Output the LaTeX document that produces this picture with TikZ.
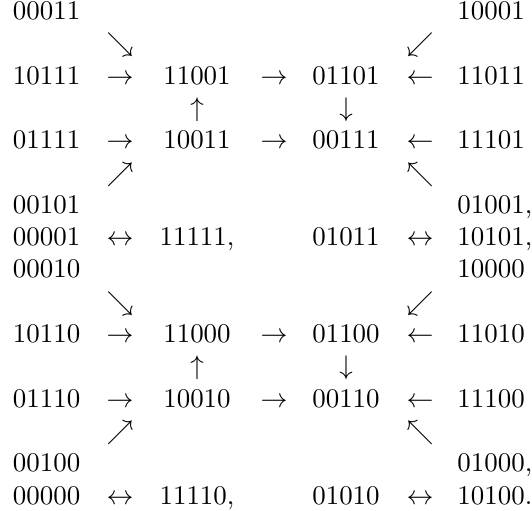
\documentclass[tikz,border=0pt]{standalone}
\begin{document}
\begin{tikzpicture}[x=0.3714pt,y=-0.3714pt,
  lft/.style={inner sep=0pt,outer sep=0pt,anchor=base west},
  ctr/.style={inner sep=0pt,outer sep=0pt,anchor=base},
  arr/.style={inner sep=0pt,outer sep=0pt,anchor=base}]
\useasboundingbox (0,0) rectangle (532,510);
% column x positions: c1 13 (left), a1 120, c2 197, a2 274, c3 346, a3 420, c4 457.5 (left)
% row 0
\node[lft] (n00011) at (13,19.3) {00011};
\node[lft] (n10001) at (457.5,19.3) {10001};
% row 1
\node[arr] (d1) at (120,51.6) {$\searrow$};
\node[arr] (d2) at (420,51.6) {$\swarrow$};
% row 2
\node[lft] (n10111) at (13,84.0) {10111};
\node[arr] (r1) at (120,84.0) {$\rightarrow$};
\node[ctr] (n11001) at (197,84.0) {11001};
\node[arr] (r2) at (274,84.0) {$\rightarrow$};
\node[ctr] (n01101) at (346,84.0) {01101};
\node[arr] (l1) at (420,84.0) {$\leftarrow$};
\node[lft] (n11011) at (457.5,84.0) {11011};
% row 3
\node[arr] (u1) at (197,116.3) {$\uparrow$};
\node[arr] (v1) at (346,116.3) {$\downarrow$};
% row 4
\node[lft] (n01111) at (13,148.6) {01111};
\node[arr] (r3) at (120,148.6) {$\rightarrow$};
\node[ctr] (n10011) at (197,148.6) {10011};
\node[arr] (r4) at (274,148.6) {$\rightarrow$};
\node[ctr] (n00111) at (346,148.6) {00111};
\node[arr] (l2) at (420,148.6) {$\leftarrow$};
\node[lft] (n11101) at (457.5,148.6) {11101};
% row 5
\node[arr] (d3) at (120,181.0) {$\nearrow$};
\node[arr] (d4) at (420,181.0) {$\nwarrow$};
% row 6
\node[lft] (n00101) at (13,213.3) {00101};
\node[lft] (n01001) at (457.5,213.3) {01001,};
% row 7
\node[lft] (n00001) at (13,245.6) {00001};
\node[arr] (b1) at (120,245.6) {$\leftrightarrow$};
\node[ctr] (n11111) at (197,245.6) {11111,};
\node[ctr] (n01011) at (346,245.6) {01011};
\node[arr] (b2) at (420,245.6) {$\leftrightarrow$};
\node[lft] (n10101) at (457.5,245.6) {10101,};
% row 8
\node[lft] (n00010) at (13,277.9) {00010};
\node[lft] (n10000) at (457.5,277.9) {10000};
% row 9
\node[arr] (d5) at (120,310.3) {$\searrow$};
\node[arr] (d6) at (420,310.3) {$\swarrow$};
% row 10
\node[lft] (n10110) at (13,342.6) {10110};
\node[arr] (r5) at (120,342.6) {$\rightarrow$};
\node[ctr] (n11000) at (197,342.6) {11000};
\node[arr] (r6) at (274,342.6) {$\rightarrow$};
\node[ctr] (n01100) at (346,342.6) {01100};
\node[arr] (l3) at (420,342.6) {$\leftarrow$};
\node[lft] (n11010) at (457.5,342.6) {11010};
% row 11
\node[arr] (u2) at (197,374.9) {$\uparrow$};
\node[arr] (v2) at (346,374.9) {$\downarrow$};
% row 12
\node[lft] (n01110) at (13,407.3) {01110};
\node[arr] (r7) at (120,407.3) {$\rightarrow$};
\node[ctr] (n10010) at (197,407.3) {10010};
\node[arr] (r8) at (274,407.3) {$\rightarrow$};
\node[ctr] (n00110) at (346,407.3) {00110};
\node[arr] (l4) at (420,407.3) {$\leftarrow$};
\node[lft] (n11100) at (457.5,407.3) {11100};
% row 13
\node[arr] (d7) at (120,439.6) {$\nearrow$};
\node[arr] (d8) at (420,439.6) {$\nwarrow$};
% row 14
\node[lft] (n00100) at (13,471.9) {00100};
\node[lft] (n01000) at (457.5,471.9) {01000,};
% row 15
\node[lft] (n00000) at (13,504.3) {00000};
\node[arr] (b3) at (120,504.3) {$\leftrightarrow$};
\node[ctr] (n11110) at (197,504.3) {11110,};
\node[ctr] (n01010) at (346,504.3) {01010};
\node[arr] (b4) at (420,504.3) {$\leftrightarrow$};
\node[lft] (n10100) at (457.5,504.3) {10100.};
\end{tikzpicture}
\end{document}
